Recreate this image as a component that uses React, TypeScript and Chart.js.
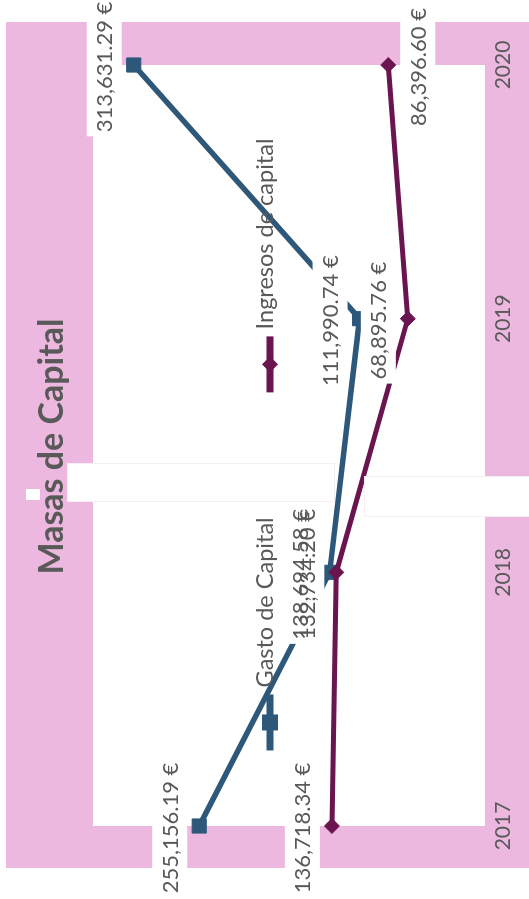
import React, { useEffect, useRef } from 'react';
import { Chart, registerables } from 'chart.js';

Chart.register(...registerables);

// ---- data ----
const years = ['2017', '2018', '2019', '2020'];
const seriesNames = ['Gasto de Capital', 'Ingresos de capital'];
const gastoCapital = [255156.19, 138694.58, 111990.74, 313631.29];
const ingresosCapital = [136718.34, 132734.2, 68895.76, 86396.6];
const gastoLabelPos = ['above', 'above', 'above', 'above'];
const ingresosLabelPos = ['above', 'above', 'above', 'below'];
const titleText = 'Masas de Capital';
const yMin = 0;
const yMax = 350000;

// ---- style ----
const BLUE = '#2E587A';
const PURPLE = '#6A1450';
const PINK = '#EDB8DF';
const GRAY = '#595959';
const FONT = 'Lato, "Open Sans", sans-serif';

const fmt = (v: number) =>
  v.toLocaleString('en-US', { minimumFractionDigits: 2, maximumFractionDigits: 2 }) + ' €';

const backgroundPlugin = {
  id: 'bg',
  beforeDraw(chart: any) {
    const { ctx, chartArea: a, width, height } = chart;
    ctx.save();
    ctx.fillStyle = '#ffffff';
    ctx.fillRect(0, 0, width, height);
    ctx.fillStyle = PINK;
    ctx.fillRect(a.left - 42, a.top - 87, a.right - a.left + 85, height);
    ctx.fillStyle = '#ffffff';
    ctx.fillRect(a.left, a.top, a.right - a.left, a.bottom - a.top);
    ctx.restore();
  },
};

const labelsPlugin = {
  id: 'valueLabels',
  afterDatasetsDraw(chart: any) {
    const { ctx } = chart;
    ctx.save();
    ctx.font = `400 22px ${FONT}`;
    const items: any[] = [];
    chart.data.datasets.forEach((ds: any, di: number) => {
      const meta = chart.getDatasetMeta(di);
      meta.data.forEach((pt: any, i: number) => {
        const text = fmt(ds.data[i]);
        const w = ctx.measureText(text).width + 8;
        const h = 35;
        const pos = ds.labelPos[i];
        const top = pos === 'above' ? pt.y - 12 - h : pt.y + 12;
        items.push({ text, x: pt.x - 2, top, w, h });
      });
    });
    ctx.fillStyle = '#ffffff';
    items.forEach((it) => ctx.fillRect(it.x - it.w / 2, it.top, it.w, it.h));
    ctx.fillStyle = GRAY;
    ctx.textAlign = 'center';
    ctx.textBaseline = 'middle';
    items.forEach((it) => ctx.fillText(it.text, it.x, it.top + it.h / 2 + 1));
    ctx.restore();
  },
};

const legendTitlePlugin = {
  id: 'legendTitle',
  afterDraw(chart: any) {
    const { ctx, chartArea: a } = chart;
    ctx.save();
    // title
    ctx.font = `700 34px ${FONT}`;
    ctx.fillStyle = GRAY;
    ctx.textAlign = 'center';
    ctx.textBaseline = 'alphabetic';
    ctx.fillText(titleText, (a.left + a.right) / 2 - 1, 62.5);

    // legend
    const lineLen = 56;
    const gapText = 7;
    const itemGap = 125;
    ctx.font = `400 23.5px ${FONT}`;
    const items = chart.data.datasets.map((ds: any) => ({
      label: ds.label,
      color: ds.borderColor,
      style: ds.pointStyle,
      tw: ctx.measureText(ds.label).width,
    }));
    const total =
      items.reduce((s: number, it: any) => s + lineLen + gapText + it.tw, 0) + itemGap * (items.length - 1);
    let x = (a.left + a.right) / 2 - total / 2 + 1;
    const cy = a.top + 177;
    items.forEach((it: any) => {
      ctx.strokeStyle = it.color;
      ctx.fillStyle = it.color;
      ctx.lineWidth = 7;
      ctx.beginPath();
      ctx.moveTo(x, cy);
      ctx.lineTo(x + lineLen, cy);
      ctx.stroke();
      const mx = x + lineLen / 2;
      ctx.beginPath();
      if (it.style === 'rect') {
        ctx.rect(mx - 8, cy - 8, 16, 16);
      } else {
        ctx.moveTo(mx - 8, cy);
        ctx.lineTo(mx, cy - 8);
        ctx.lineTo(mx + 8, cy);
        ctx.lineTo(mx, cy + 8);
        ctx.closePath();
      }
      ctx.fill();
      ctx.fillStyle = GRAY;
      ctx.textAlign = 'left';
      ctx.textBaseline = 'alphabetic';
      ctx.fillText(it.label, x + lineLen + gapText, cy + 3);
      x += lineLen + gapText + it.tw + itemGap;
    });

    // white overlay boxes present in the source image
    ctx.fillStyle = '#ffffff';
    ctx.strokeStyle = '#f6eef3';
    ctx.lineWidth = 1;
    ctx.fillRect(397, 67, 39, 268);
    ctx.strokeRect(397.5, 67.5, 38, 267);
    ctx.fillRect(382, 364, 41, 170);
    ctx.strokeRect(382.5, 364.5, 40, 170);
    ctx.fillRect(399, 26, 11, 14);
    ctx.restore();
  },
};

export default function App() {
  const ref = useRef<HTMLCanvasElement | null>(null);

  useEffect(() => {
    if (!ref.current) return;
    const chart = new Chart(ref.current, {
      type: 'line',
      data: {
        labels: years,
        datasets: [
          {
            label: seriesNames[0],
            data: gastoCapital,
            labelPos: gastoLabelPos,
            borderColor: BLUE,
            backgroundColor: BLUE,
            borderWidth: 5.5,
            pointStyle: 'rect',
            pointRadius: 10,
            pointBorderWidth: 1,
            pointBackgroundColor: BLUE,
            pointBorderColor: BLUE,
            tension: 0,
            clip: false,
            order: 2,
          } as any,
          {
            label: seriesNames[1],
            data: ingresosCapital,
            labelPos: ingresosLabelPos,
            borderColor: PURPLE,
            backgroundColor: PURPLE,
            borderWidth: 5,
            pointStyle: 'rectRot',
            pointRadius: 7.5,
            pointBorderWidth: 1,
            pointBackgroundColor: PURPLE,
            pointBorderColor: PURPLE,
            tension: 0,
            clip: false,
            order: 1,
          } as any,
        ],
      },
      options: {
        responsive: false,
        maintainAspectRatio: false,
        animation: false,
        events: [],
        layout: { padding: { left: 73, right: 65, top: 93, bottom: 0 } },
        plugins: {
          legend: { display: false },
          title: { display: false },
          tooltip: { enabled: false },
        },
        scales: {
          x: {
            type: 'category',
            offset: false,
            grid: { display: false, drawTicks: false },
            border: { display: false },
            ticks: {
              color: GRAY,
              font: { family: FONT, size: 21 },
              padding: 6,
              maxRotation: 0,
              autoSkip: false,
            },
            afterFit: (s: any) => {
              s.height = 44;
            },
          },
          y: { display: false, min: yMin, max: yMax },
        },
      },
      plugins: [backgroundPlugin, labelsPlugin, legendTitlePlugin],
    });
    return () => chart.destroy();
  }, []);

  return (
    <div
      style={{
        position: 'fixed',
        left: 0,
        top: 0,
        width: 899,
        height: 529,
        transformOrigin: '0 0',
        transform: 'translateY(899px) rotate(-90deg)',
        background: '#fff',
      }}
    >
      <canvas ref={ref} width={899} height={529} style={{ display: 'block', width: 899, height: 529 }} />
    </div>
  );
}
